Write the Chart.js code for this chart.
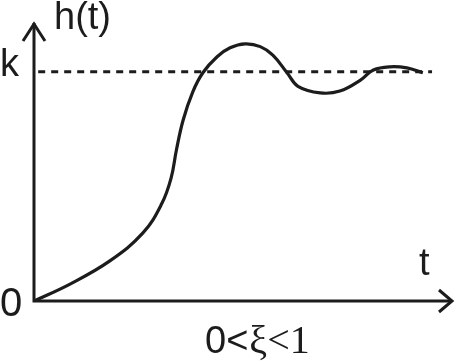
<!DOCTYPE html>
<html>
<head>
<meta charset="utf-8">
<script src="https://cdn.jsdelivr.net/npm/chart.js"></script>
<style>
  html, body { margin: 0; padding: 0; background: #fff; }
  #wrap { width: 455px; height: 362px; }
</style>
</head>
<body>
<div id="wrap"><canvas id="c" width="455" height="362"></canvas></div>
<script>
// step response h(t), underdamped (0 < xi < 1)
const times = [0, 0.86, 1.81, 2.60, 3.05, 3.27, 3.40, 3.56, 3.79, 4.03,
  4.37, 4.68, 5.04, 5.40, 5.70, 6.04, 6.30, 6.83, 7.30, 7.80, 8.10, 8.50, 8.90, 9.28]
const response = [0, 0.074, 0.175, 0.297, 0.425, 0.535, 0.660, 0.790,
  0.913, 0.996, 1.066, 1.105, 1.122, 1.110, 1.073, 0.996, 0.937, 0.908, 0.916, 0.965,
  1.008, 1.022, 1.017, 0.996]
const k = 1
const kLine = [0.1, 9.5]

const ink = '#1c1c1c'
const sans = '"Liberation Sans", Arial, sans-serif'
const serif = '"Liberation Serif", "Times New Roman", serif'

const axesPlugin = {
  id: 'axes',
  afterDatasetsDraw (chart) {
    const { ctx } = chart
    const x0 = chart.scales.x.getPixelForValue(0)
    const y0 = chart.scales.y.getPixelForValue(0)
    const yk = chart.scales.y.getPixelForValue(k)
    ctx.save()
    ctx.strokeStyle = ink
    ctx.lineWidth = 3
    ctx.lineCap = 'butt'
    // axes
    ctx.beginPath()
    ctx.moveTo(x0, 23)
    ctx.lineTo(x0, y0)
    ctx.lineTo(452, y0)
    ctx.stroke()
    // arrow heads
    ctx.beginPath()
    ctx.moveTo(x0 - 11, 41)
    ctx.lineTo(x0, 24)
    ctx.lineTo(x0 + 11, 41)
    ctx.moveTo(439, y0 - 11)
    ctx.lineTo(452, y0)
    ctx.lineTo(439, y0 + 11)
    ctx.stroke()

    ctx.fillStyle = ink
    ctx.textBaseline = 'alphabetic'
    ctx.font = '38px ' + sans
    ctx.fillText('h(t)', 54, 29)
    ctx.fillText('k', 0, yk + 4)
    ctx.fillText('t', 419, 275)
    ctx.font = '40px ' + sans
    ctx.fillText('0', 0, 316)
    // 0<ξ<1
    ctx.font = '38px ' + sans
    let x = 205
    ctx.fillText('0<', x, 353)
    x += ctx.measureText('0<').width + 1
    ctx.font = '40px ' + serif
    ctx.fillText('ξ<1', x, 353)
    ctx.restore()
  }
}

new Chart(document.getElementById('c'), {
  type: 'line',
  data: {
    datasets: [{
      data: times.map((t, i) => ({ x: t, y: response[i] })),
      borderColor: ink,
      borderWidth: 3.2,
      pointRadius: 0,
      tension: 0.4,
      fill: false
    }, {
      data: kLine.map(t => ({ x: t, y: k })),
      borderColor: ink,
      borderWidth: 3,
      borderDash: [7, 6],
      pointRadius: 0,
      fill: false
    }]
  },
  options: {
    responsive: false,
    animation: false,
    layout: { padding: { left: 34, right: 2, top: 26, bottom: 61 } },
    plugins: { legend: { display: false }, tooltip: { enabled: false } },
    scales: {
      x: { type: 'linear', min: 0, max: 10, display: false },
      y: { min: 0, max: 1.2, display: false }
    }
  },
  plugins: [axesPlugin]
})
</script>
</body>
</html>
